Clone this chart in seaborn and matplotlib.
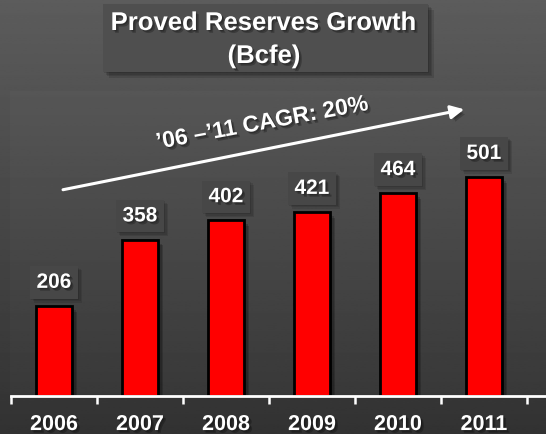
import numpy as np
import matplotlib
matplotlib.use("Agg")
import matplotlib.pyplot as plt
import matplotlib.patheffects as pe
from matplotlib.patches import Rectangle
import seaborn as sns
import pandas as pd

years = ["2006", "2007", "2008", "2009", "2010", "2011"]
reserves = [206, 358, 402, 421, 464, 501]
title_lines = ["Proved Reserves Growth", "(Bcfe)"]
cagr_text = "\u201906 \u2013\u201911 CAGR: 20%"

sns.set_theme(style="white")
plt.rcParams["font.family"] = ["Liberation Sans", "DejaVu Sans"]

W, H = 546, 435
fig = plt.figure(figsize=(W / 100, H / 100), dpi=100)

# background gradient
bg = fig.add_axes([0, 0, 1, 1], zorder=-10)
grad = np.linspace(0x32 / 255, 0x5c / 255, 256).reshape(-1, 1)
bg.imshow(grad, cmap="gray", vmin=0, vmax=1, aspect="auto", extent=[0, 1, 0, 1], origin="lower")
bg.set_axis_off()


def soft(n, step, alpha):
    effs = [pe.SimplePatchShadow(offset=(k * step, -k * step), shadow_rgbFace="black", alpha=alpha)
            for k in range(n, 0, -1)]
    return effs + [pe.Normal()]


bar_shadow = soft(4, 1.0, 0.18)
box_shadow = soft(3, 1.0, 0.10)
tshadow = soft(2, 1.0, 0.25)

# subtle plot panel
panel = Rectangle((10 / W, 38 / H), 1 - 10 / W, (397 - 92) / H, transform=fig.transFigure,
                  fc="white", alpha=0.02, ec="none", zorder=-5)
fig.patches.append(panel)

# title box
tb = Rectangle((103 / W, 1 - 73 / H), 325 / W, 68 / H, transform=fig.transFigure,
               fc="#4f4f4f", ec="none", zorder=1)
tb.set_path_effects(soft(4, 1.0, 0.12))
fig.patches.append(tb)
fig.text(264 / W, 1 - 24 / H, title_lines[0], ha="center", va="center", color="white",
         fontsize=18.5, fontweight="bold", path_effects=tshadow, zorder=2)
fig.text(264 / W, 1 - 57 / H, title_lines[1], ha="center", va="center", color="white",
         fontsize=18.5, fontweight="bold", path_effects=tshadow, zorder=2)

ax = fig.add_axes([11 / W, 38 / H, (W - 11) / W, (H - 38) / H])
ax.patch.set_alpha(0)
df = pd.DataFrame({"year": years, "reserves": reserves})
sns.barplot(data=df, x="year", y="reserves", color="#ff0000", saturation=1,
            edgecolor="black", linewidth=2, width=0.41, ax=ax)
for p in ax.patches:
    p.set_path_effects(bar_shadow)

ax.set_ylim(0, 397 / 0.437)
ax.set_xlim(-0.5, -0.5 + (W - 11) / 86)

for i, v in enumerate(reserves):
    a = ax.annotate(str(v), xy=(i, v), xytext=(0, 17), textcoords="offset points",
                    ha="center", va="center", fontsize=15, fontweight="bold", color="white",
                    bbox=dict(boxstyle="square,pad=0.32", fc="#474747", ec="none"))
    a.get_bbox_patch().set_path_effects(box_shadow)
    a.set_path_effects(tshadow)

# CAGR arrow and text
arr = ax.annotate("", xy=(4.77, 656), xytext=(0.105, 472),
                  arrowprops=dict(arrowstyle="-|>", color="white", lw=2.2, mutation_scale=20,
                                  shrinkA=0, shrinkB=0))
arr.arrow_patch.set_path_effects(soft(3, 1.0, 0.2))
ax.text((262 - 11) / (W - 11), (397 - 124) / 397, cagr_text,
        transform=ax.transAxes, rotation=10.5, rotation_mode="anchor", ha="center", va="center",
        fontsize=16.5, fontweight="bold", color="white", path_effects=tshadow)

# axis styling
for s in ["left", "right", "top"]:
    ax.spines[s].set_visible(False)
ax.spines["bottom"].set_color("white")
ax.spines["bottom"].set_linewidth(2)
ax.set_yticks([])
ax.set_xlabel("")
ax.set_ylabel("")
ax.set_xticks(np.arange(-0.5, 6.0, 1.0), minor=True)
ax.tick_params(axis="x", which="minor", length=6, width=1.8, color="white", direction="out", bottom=True)
ax.tick_params(axis="x", which="major", length=0, pad=13, labelsize=15.5, labelcolor="white")
for lab in ax.get_xticklabels():
    lab.set_fontweight("bold")
    lab.set_path_effects(tshadow)

fig.savefig("out.png", dpi=100)
